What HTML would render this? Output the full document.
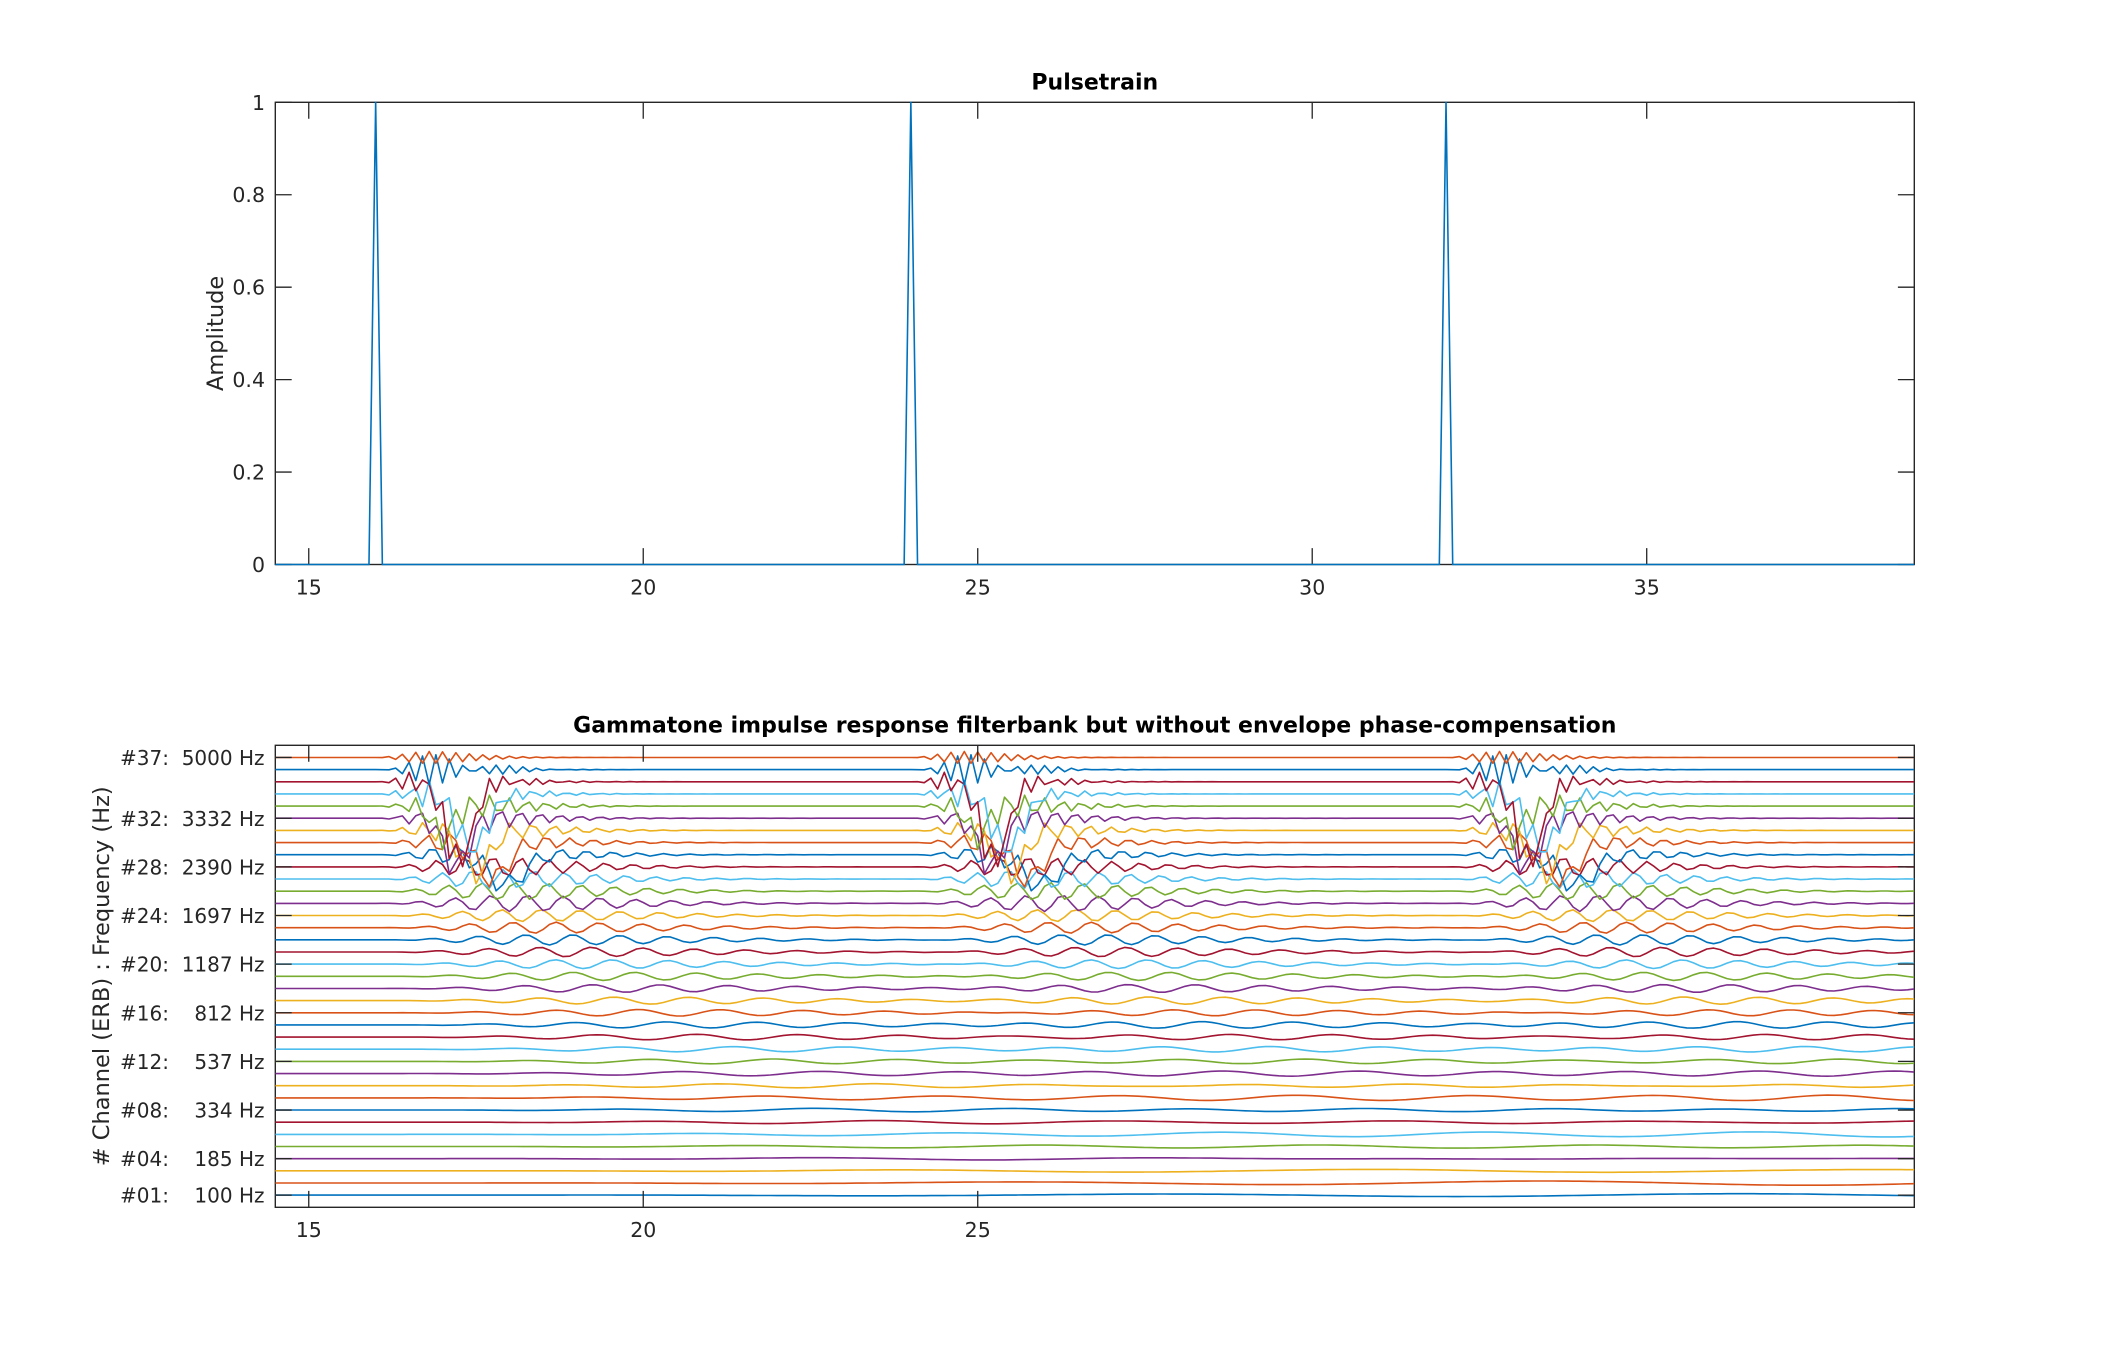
<!DOCTYPE html>
<html><head><meta charset="utf-8">
<style>
html,body{margin:0;padding:0;background:#fff;}
svg{display:block;}
text{font-family:"DejaVu Sans","Liberation Sans",sans-serif;fill:#262626;}
.tk{font-size:20.5px;}
.tk2{font-size:20px;}
.ttl{font-size:22px;font-weight:bold;fill:#000;}
.lbl{font-size:22.5px;}
</style></head>
<body>
<svg id="s" width="2117" height="1358" viewBox="0 0 2117 1358" xmlns="http://www.w3.org/2000/svg">
<defs><clipPath id="cb"><rect x="275.3" y="745.3" width="1639" height="462"/></clipPath></defs>
<rect width="2117" height="1358" fill="#fff"/>

<!-- ===== TOP AXES ===== -->
<rect x="275.3" y="102.3" width="1639" height="462.2" fill="#fff" stroke="#262626" stroke-width="1.4"/>
<path stroke="#262626" stroke-width="1.3" fill="none" d="
M308.75 564.5V548.1M308.75 102.3V118.7
M643.24 564.5V548.1M643.24 102.3V118.7
M977.73 564.5V548.1M977.73 102.3V118.7
M1312.22 564.5V548.1M1312.22 102.3V118.7
M1646.71 564.5V548.1M1646.71 102.3V118.7
M275.3 564.5H291.7M1914.3 564.5H1897.9
M275.3 472.06H291.7M1914.3 472.06H1897.9
M275.3 379.62H291.7M1914.3 379.62H1897.9
M275.3 287.18H291.7M1914.3 287.18H1897.9
M275.3 194.74H291.7M1914.3 194.74H1897.9
M275.3 102.3H291.7M1914.3 102.3H1897.9"/>
<polyline id="pulse" fill="none" stroke="#0072BD" stroke-width="1.6" stroke-linejoin="round"
 points="275.3,564.5 368.97,564.5 375.66,102.3 382.35,564.5 904.15,564.5 910.84,102.3 917.53,564.5 1439.33,564.5 1446.02,102.3 1452.71,564.5 1914.3,564.5"/>

<g class="tk" text-anchor="end">
<text x="265" y="572">0</text>
<text x="265" y="479.6">0.2</text>
<text x="265" y="387.1">0.4</text>
<text x="265" y="294.7">0.6</text>
<text x="265" y="202.2">0.8</text>
<text x="265" y="109.8">1</text>
</g>
<g class="tk" text-anchor="middle">
<text x="308.75" y="594.3">15</text>
<text x="643.24" y="594.3">20</text>
<text x="977.73" y="594.3">25</text>
<text x="1312.22" y="594.3">30</text>
<text x="1646.71" y="594.3">35</text>
</g>
<text class="ttl" x="1094.8" y="89.3" text-anchor="middle">Pulsetrain</text>
<text class="lbl" transform="translate(223,333.4) rotate(-90)" text-anchor="middle">Amplitude</text>

<!-- ===== BOTTOM AXES ===== -->
<rect x="275.3" y="745.3" width="1639" height="462" fill="#fff" stroke="#262626" stroke-width="1.4"/>

<g id="fb" stroke-width="1.6" clip-path="url(#cb)">
<line x1="275.3" x2="1914.3" y1="1195.14" y2="1195.14" stroke="#0072BD"/>
<line x1="275.3" x2="1914.3" y1="1182.98" y2="1182.98" stroke="#D95319"/>
<line x1="275.3" x2="1914.3" y1="1170.83" y2="1170.83" stroke="#EDB120"/>
<line x1="275.3" x2="1914.3" y1="1158.67" y2="1158.67" stroke="#7E2F8E"/>
<line x1="275.3" x2="1914.3" y1="1146.51" y2="1146.51" stroke="#77AC30"/>
<line x1="275.3" x2="1914.3" y1="1134.35" y2="1134.35" stroke="#4DBEEE"/>
<line x1="275.3" x2="1914.3" y1="1122.19" y2="1122.19" stroke="#A2142F"/>
<line x1="275.3" x2="1914.3" y1="1110.04" y2="1110.04" stroke="#0072BD"/>
<line x1="275.3" x2="1914.3" y1="1097.88" y2="1097.88" stroke="#D95319"/>
<line x1="275.3" x2="1914.3" y1="1085.72" y2="1085.72" stroke="#EDB120"/>
<line x1="275.3" x2="1914.3" y1="1073.56" y2="1073.56" stroke="#7E2F8E"/>
<line x1="275.3" x2="1914.3" y1="1061.40" y2="1061.40" stroke="#77AC30"/>
<line x1="275.3" x2="1914.3" y1="1049.25" y2="1049.25" stroke="#4DBEEE"/>
<line x1="275.3" x2="1914.3" y1="1037.09" y2="1037.09" stroke="#A2142F"/>
<line x1="275.3" x2="1914.3" y1="1024.93" y2="1024.93" stroke="#0072BD"/>
<line x1="275.3" x2="1914.3" y1="1012.77" y2="1012.77" stroke="#D95319"/>
<line x1="275.3" x2="1914.3" y1="1000.61" y2="1000.61" stroke="#EDB120"/>
<line x1="275.3" x2="1914.3" y1="988.46" y2="988.46" stroke="#7E2F8E"/>
<line x1="275.3" x2="1914.3" y1="976.30" y2="976.30" stroke="#77AC30"/>
<line x1="275.3" x2="1914.3" y1="964.14" y2="964.14" stroke="#4DBEEE"/>
<line x1="275.3" x2="1914.3" y1="951.98" y2="951.98" stroke="#A2142F"/>
<line x1="275.3" x2="1914.3" y1="939.82" y2="939.82" stroke="#0072BD"/>
<line x1="275.3" x2="1914.3" y1="927.67" y2="927.67" stroke="#D95319"/>
<line x1="275.3" x2="1914.3" y1="915.51" y2="915.51" stroke="#EDB120"/>
<line x1="275.3" x2="1914.3" y1="903.35" y2="903.35" stroke="#7E2F8E"/>
<line x1="275.3" x2="1914.3" y1="891.19" y2="891.19" stroke="#77AC30"/>
<line x1="275.3" x2="1914.3" y1="879.03" y2="879.03" stroke="#4DBEEE"/>
<line x1="275.3" x2="1914.3" y1="866.88" y2="866.88" stroke="#A2142F"/>
<line x1="275.3" x2="1914.3" y1="854.72" y2="854.72" stroke="#0072BD"/>
<line x1="275.3" x2="1914.3" y1="842.56" y2="842.56" stroke="#D95319"/>
<line x1="275.3" x2="1914.3" y1="830.40" y2="830.40" stroke="#EDB120"/>
<line x1="275.3" x2="1914.3" y1="818.24" y2="818.24" stroke="#7E2F8E"/>
<line x1="275.3" x2="1914.3" y1="806.09" y2="806.09" stroke="#77AC30"/>
<line x1="275.3" x2="1914.3" y1="793.93" y2="793.93" stroke="#4DBEEE"/>
<line x1="275.3" x2="1914.3" y1="781.77" y2="781.77" stroke="#A2142F"/>
<line x1="275.3" x2="1914.3" y1="769.61" y2="769.61" stroke="#0072BD"/>
<line x1="275.3" x2="1914.3" y1="757.46" y2="757.46" stroke="#D95319"/>
</g>
<g id="wave" clip-path="url(#cb)"></g>

<path stroke="#262626" stroke-width="1.3" fill="none" d="
M308.75 1207.3V1190.9M308.75 745.3V761.7
M643.24 1207.3V1190.9M643.24 745.3V761.7
M977.73 1207.3V1190.9M977.73 745.3V761.7
M275.3 1195.14H291.7M1914.3 1195.14H1897.9
M275.3 1158.67H291.7M1914.3 1158.67H1897.9
M275.3 1110.04H291.7M1914.3 1110.04H1897.9
M275.3 1061.40H291.7M1914.3 1061.40H1897.9
M275.3 1012.77H291.7M1914.3 1012.77H1897.9
M275.3 964.14H291.7M1914.3 964.14H1897.9
M275.3 915.51H291.7M1914.3 915.51H1897.9
M275.3 866.88H291.7M1914.3 866.88H1897.9
M275.3 818.24H291.7M1914.3 818.24H1897.9
M275.3 757.46H291.7M1914.3 757.46H1897.9"/>

<g class="tk2" text-anchor="end">
<text x="264.5" y="765">#37:&#160;&#160;5000 Hz</text>
<text x="264.5" y="825.8">#32:&#160;&#160;3332 Hz</text>
<text x="264.5" y="874.4">#28:&#160;&#160;2390 Hz</text>
<text x="264.5" y="923">#24:&#160;&#160;1697 Hz</text>
<text x="264.5" y="971.6">#20:&#160;&#160;1187 Hz</text>
<text x="264.5" y="1020.3">#16:&#160;&#160;&#160;&#160;812 Hz</text>
<text x="264.5" y="1068.9">#12:&#160;&#160;&#160;&#160;537 Hz</text>
<text x="264.5" y="1117.5">#08:&#160;&#160;&#160;&#160;334 Hz</text>
<text x="264.5" y="1166.2">#04:&#160;&#160;&#160;&#160;185 Hz</text>
<text x="264.5" y="1202.6">#01:&#160;&#160;&#160;&#160;100 Hz</text>
</g>
<g class="tk" text-anchor="middle">
<text x="308.75" y="1237">15</text>
<text x="643.24" y="1237">20</text>
<text x="977.73" y="1237">25</text>
</g>
<text class="ttl" x="1094.8" y="732.3" text-anchor="middle">Gammatone impulse response filterbank but without envelope phase-compensation</text>
<text class="lbl" transform="translate(109,976.3) rotate(-90)" text-anchor="middle"># Channel (ERB) : Frequency (Hz)</text>
</svg>

<script>
(function(){
var NS='http://www.w3.org/2000/svg';
var X0=275.3,X1=1914.3,T0=14.5,T1=39,SX=(X1-X0)/(T1-T0);
var YB=1207.3,SY=462/38;
var cols=['#0072BD','#D95319','#EDB120','#7E2F8E','#77AC30','#4DBEEE','#A2142F'];
var e1=21.4*Math.log10(1+0.00437*100), e2=21.4*Math.log10(1+0.00437*5000);
var sw={35:[1.25,0.2,6.5],34:[1.45,0.22,4.5],33:[1.0,0.15,2.5],32:[1.2,0.18,4],31:[1.5,0.2,3.5],30:[1.75,0.22,3],29:[1.95,0.25,2.5]};
var pulses=[16,24,32];
var g=document.getElementById('wave');
var fb=document.getElementById('fb');
for(var k=1;k<=37;k++){
  var erb=e1+(e2-e1)*(k-1)/36;
  var fc=(Math.pow(10,erb/21.4)-1)/0.00437;
  var b=1.019*24.7*(1+0.00437*fc);
  var tp=3000/(2*Math.PI*b);
  var A=0.00236*b;
  if(k>=25&&k<=35) A*=1.25;
  var phi=-1.2;
  var pts=[];
  for(var n=0;n<=245;n++){
    var t=T0+n*0.1;
    var v=0;
    for(var j=0;j<pulses.length;j++){
      var tau=Math.round((t-pulses[j])*10)/10;
      if(tau<=0) continue;
      var r=tau/tp;
      var env=r*r*r*Math.exp(3*(1-r));
      v+=A*env*Math.cos(2*Math.PI*fc*tau/1000+phi);
      if(sw[k]){var c=sw[k][0],s=sw[k][1],D=sw[k][2];var z=(tau-c)/s;v-=D*Math.exp(-0.5*z*z);}
    }
    pts.push((X0+(t-T0)*SX).toFixed(1)+','+(YB-(k+v)*SY).toFixed(1));
  }
  var pl=document.createElementNS(NS,'polyline');
  pl.setAttribute('points',pts.join(' '));
  pl.setAttribute('fill','none');
  pl.setAttribute('stroke',cols[(k-1)%7]);
  pl.setAttribute('stroke-width','1.6');
  pl.setAttribute('stroke-linejoin','round');
  g.appendChild(pl);
}
if(fb&&fb.parentNode) fb.parentNode.removeChild(fb);
})();
</script>
</body></html>
